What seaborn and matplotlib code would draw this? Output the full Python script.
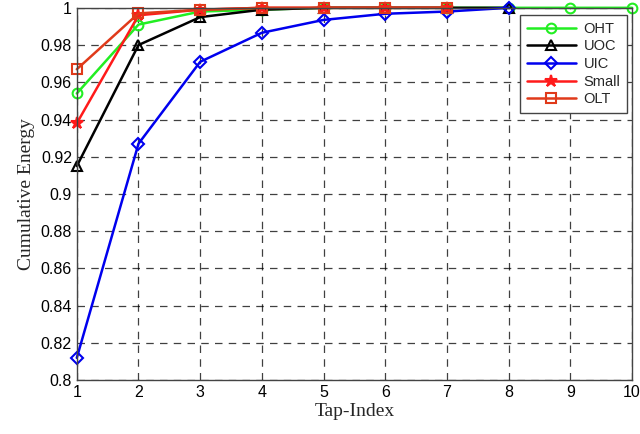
import numpy as np
import pandas as pd
import seaborn as sns
import matplotlib.pyplot as plt

# valores
oht = [0.954, 0.991, 0.998, 0.999, 1.0, 1.0, 1.0, 1.0, 1.0, 1.0]
uoc = [0.915, 0.980, 0.995, 0.999, 1.0, 1.0, 1.0, 1.0]
uic = [0.812, 0.927, 0.971, 0.9866, 0.9935, 0.9968, 0.998, 1.0]
small = [0.938, 0.996, 0.999, 1.0, 1.0, 1.0, 1.0]
olt = [0.967, 0.997, 0.999, 1.0, 1.0, 1.0, 1.0]

series = {"OHT": oht, "UOC": uoc, "UIC": uic, "Small": small, "OLT": olt}
cores = {"OHT": "#22ee22", "UOC": "black", "UIC": "#0000ee", "Small": "#ff1a1a", "OLT": "#e03a1a"}
marcadores = {"OHT": "o", "UOC": "^", "UIC": "D", "Small": "*", "OLT": "s"}

linhas = []
for nome, vals in series.items():
    for i, v in enumerate(vals):
        linhas.append({"Tap": i + 1, "Energia": v, "Serie": nome})
df = pd.DataFrame(linhas)

sns.set_style("white")
plt.rcParams["font.family"] = ["Liberation Sans", "DejaVu Sans"]

fig = plt.figure(figsize=(6.4, 4.34), dpi=100)
ax = fig.add_axes([0.12, 0.124, 0.8675, 0.858])

for nome in series:
    sub = df[df["Serie"] == nome]
    mfc = "none"
    ms = 7
    if nome == "Small":
        mfc = cores[nome]
        ms = 9
    if nome == "UIC":
        ms = 6
    sns.lineplot(data=sub, x="Tap", y="Energia", ax=ax, color=cores[nome], label=nome,
                 marker=marcadores[nome], markersize=ms, markerfacecolor=mfc,
                 markeredgecolor=cores[nome], markeredgewidth=1.5, linewidth=1.8)

for ln in ax.get_lines():
    ln.set_clip_on(False)

ax.set_xlim(1, 10)
ax.set_ylim(0.8, 1.0)
ax.set_xticks(range(1, 11))
ax.set_yticks(np.arange(0.8, 1.001, 0.02))
ax.set_yticklabels(["0.8", "0.82", "0.84", "0.86", "0.88", "0.9", "0.92", "0.94", "0.96", "0.98", "1"])
ax.tick_params(direction="in", labelsize=11.5, length=4, colors="black")
ax.grid(True, color="black", linestyle=(0, (6, 5)), linewidth=0.9, alpha=0.75)
for s in ax.spines.values():
    s.set_color("#444444")
    s.set_linewidth(1)

ax.set_xlabel("Tap-Index", family=["Liberation Serif"], fontsize=14, labelpad=2)
ax.set_ylabel("Cumulative Energy", family=["Liberation Serif"], fontsize=14, labelpad=4)

leg = ax.legend(loc="upper right", bbox_to_anchor=(0.991, 0.98), borderaxespad=0,
                fontsize=10.5, frameon=True, fancybox=False, edgecolor="#444444",
                framealpha=1, handlelength=3.4, borderpad=0.45, labelspacing=0.25,
                handletextpad=0.5)
leg.get_frame().set_linewidth(1)
leg.set_zorder(5)

fig.savefig("out.png", dpi=100)
